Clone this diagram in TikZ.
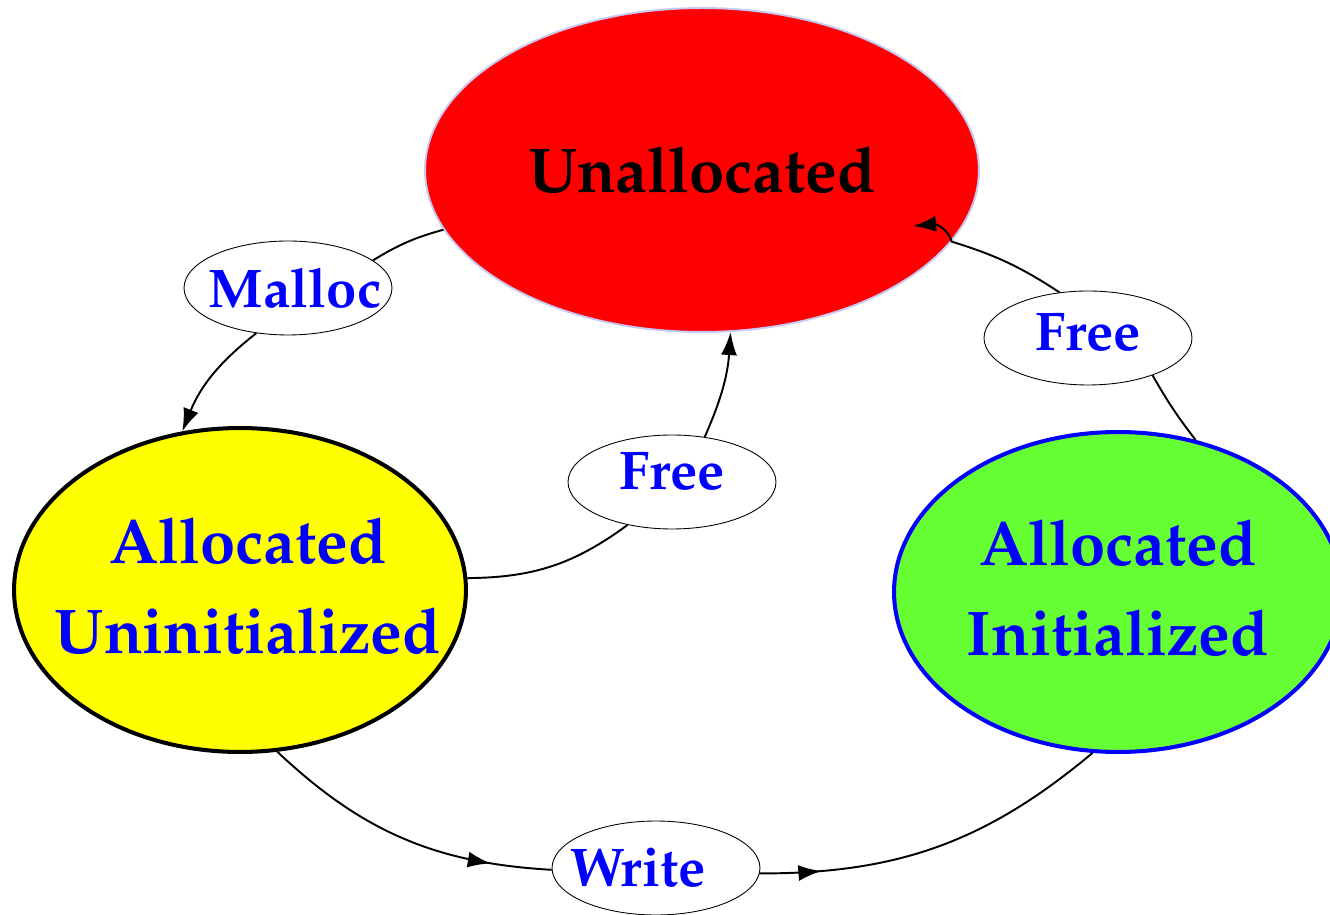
\documentclass[tikz,border=0pt]{standalone}
\usepackage[T1]{fontenc}
\usepackage{mathpazo}
\usetikzlibrary{shapes.geometric,arrows.meta,decorations.markings}
\definecolor{lav}{RGB}{200,200,245}
\definecolor{lgreen}{RGB}{102,255,51}
\definecolor{pureyellow}{RGB}{255,255,0}
\begin{document}
\begin{tikzpicture}[x=0.02cm,y=-0.02cm,
 state/.style={ellipse,inner sep=0pt},
 big/.style={font=\fontsize{36}{51}\selectfont\bfseries,align=center},
 small/.style={font=\fontsize{31}{36}\selectfont\bfseries,text=blue},
 act/.style={ellipse,draw=black,line width=0.5pt,fill=white,minimum width=4.16cm,minimum height=1.88cm,inner sep=0pt},
 conn/.style={draw=black,line width=1.1pt},
 tip/.style={-{Latex[length=0.46cm,width=0.32cm]}},
 midtip/.style={postaction={decorate},decoration={markings,mark=at position #1 with {\arrow{Latex[length=0.46cm,width=0.32cm]}}}}
]
\useasboundingbox (0,0) rectangle (1330,915);
\node[state,fill=red,draw=lav,line width=1.1pt,minimum width=11.08cm,minimum height=6.48cm,
  label={[big,text=black]center:Unallocated}] (u) at (702,170) {};
\node[state,fill=pureyellow,draw=black,line width=2.3pt,minimum width=9.04cm,minimum height=6.48cm,
  label={[big,text=blue,xshift=0.16cm,yshift=0.08cm]center:{Allocated\\Uninitialized}}] (ui) at (240,590) {};
\node[state,fill=lgreen,draw=blue,line width=2.3pt,minimum width=8.96cm,minimum height=6.4cm,
  label={[big,text=blue,yshift=0.08cm]center:{Allocated\\Initialized}}] (ai) at (1118,592) {};
\node[act,label={[small,xshift=0.14cm]center:Malloc}] (m) at (288,288) {};
\node[act,label={[small,yshift=0.2cm]center:Free}] (fm) at (672,482) {};
\node[act,label={[small,yshift=0.1cm]center:Free}] (fr) at (1088,338) {};
\node[act,label={[small,xshift=-0.36cm]center:Write}] (w) at (656,868) {};
\coordinate (hookend) at (913,226);
% Malloc
\draw[conn] (u.193) to[bend right=8] (m.18);
\draw[conn,tip] (m.235) to[bend right=15] (ui.110);
% Free (middle)
\draw[conn] (ui.3) to[bend right=18] (fm.224);
\draw[conn,tip] (fm.54) to[bend right=10] (u.280);
% Free (right)
\draw[conn] (ai.63) to[bend left=4] (fr.330);
\draw[conn,tip] (fr.122) to[bend right=8] (u.344.5) .. controls (948,228) and (935,224) .. (hookend);
% Write
\draw[conn,midtip=0.8] (ui.283) to[bend right=20] (w.181);
\draw[conn,midtip=0.17] (w.357) to[bend right=20] (ai.261);
\end{tikzpicture}
\end{document}
